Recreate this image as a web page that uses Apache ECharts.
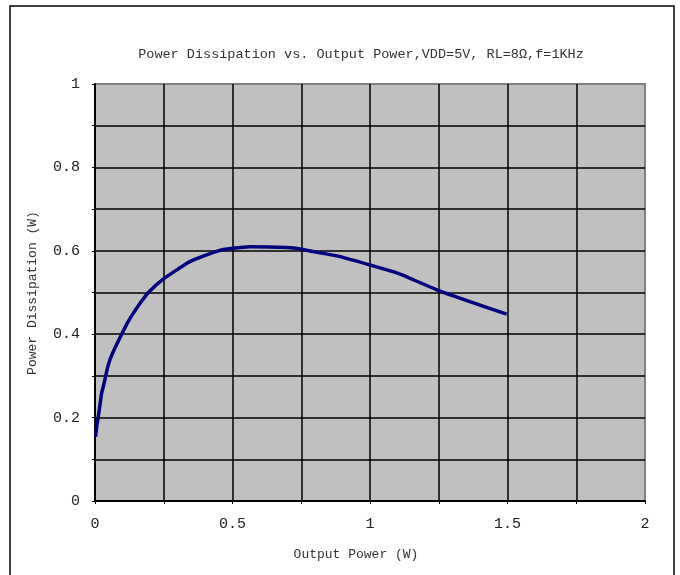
<!DOCTYPE html>
<html>
<head>
<meta charset="utf-8">
<script src="https://cdn.jsdelivr.net/npm/echarts@6/dist/echarts.min.js"></script>
<style>
  html, body { margin: 0; padding: 0; background: #ffffff; }
  #chart { width: 680px; height: 575px; }
</style>
</head>
<body>
<div id="chart"></div>
<script>
// Output power (W) and the matching power dissipation (W)
const outputPower = [0.002, 0.006, 0.012, 0.018, 0.024, 0.030, 0.039, 0.048, 0.061, 0.079, 0.097, 0.117, 0.139, 0.164, 0.194, 0.248, 0.345, 0.448, 0.5, 0.564, 0.697, 0.752, 0.794, 0.891, 1.0, 1.103, 1.252, 1.497];
const powerDissipation = [0.154, 0.178, 0.202, 0.230, 0.258, 0.274, 0.300, 0.326, 0.350, 0.376, 0.400, 0.426, 0.450, 0.474, 0.500, 0.532, 0.574, 0.600, 0.606, 0.610, 0.608, 0.604, 0.598, 0.586, 0.566, 0.546, 0.504, 0.448];

const chartTitle = 'Power Dissipation vs. Output Power,VDD=5V, RL=8Ω,f=1KHz';
const xName = 'Output Power (W)';
const yName = 'Power Dissipation (W)';

const FONT = '"Liberation Mono", "DejaVu Sans Mono", monospace';

const points = outputPower.map((x, i) => [x, powerDissipation[i]]);

const chart = echarts.init(document.getElementById('chart'), null, { renderer: 'canvas' });

chart.setOption({
  animation: false,
  backgroundColor: '#ffffff',
  grid: {
    left: 95, top: 84, width: 550, height: 417,
    show: true,
    backgroundColor: '#c0c0c0',
    borderColor: '#808080',
    borderWidth: 2
  },
  graphic: [
    {
      type: 'rect',
      shape: { x: 10, y: 6, width: 664, height: 600 },
      style: { fill: 'none', stroke: '#000', lineWidth: 1.5 },
      z: -10
    },
    {
      type: 'text',
      x: 361, y: 54,
      style: { text: chartTitle, font: '13.5px ' + FONT, fill: '#333', textAlign: 'center', textVerticalAlign: 'middle' }
    },
    {
      type: 'text',
      x: 356, y: 555,
      style: { text: xName, font: '13px ' + FONT, fill: '#333', textAlign: 'center', textVerticalAlign: 'middle' }
    },
    {
      type: 'text',
      x: 33, y: 293,
      rotation: Math.PI / 2,
      style: { text: yName, font: '13px ' + FONT, fill: '#333', textAlign: 'center', textVerticalAlign: 'middle' }
    }
  ],
  xAxis: {
    type: 'value',
    min: 0, max: 2, interval: 0.25,
    axisLine: { show: true, onZero: false, lineStyle: { color: '#000', width: 2 } },
    axisTick: { show: true, inside: false, length: 3, lineStyle: { color: '#000' } },
    axisLabel: {
      margin: 16,
      fontFamily: FONT, fontSize: 15, color: '#222',
      formatter: v => (Math.round(v * 4) % 2 === 0 ? String(+v.toFixed(2)) : '')
    },
    splitLine: { show: true, showMaxLine: false, lineStyle: { color: '#000', width: 1.5 } }
  },
  yAxis: {
    type: 'value',
    min: 0, max: 1, interval: 0.1,
    axisLine: { show: true, onZero: false, lineStyle: { color: '#000', width: 2 } },
    axisTick: { show: true, inside: false, length: 3, lineStyle: { color: '#000' } },
    axisLabel: {
      margin: 15,
      fontFamily: FONT, fontSize: 15, color: '#222',
      formatter: v => (Math.round(v * 10) % 2 === 0 ? String(+v.toFixed(1)) : '')
    },
    splitLine: { show: true, showMaxLine: false, lineStyle: { color: '#000', width: 1.5 } }
  },
  series: [
    {
      type: 'line',
      data: points,
      showSymbol: false,
      smooth: 0.15,
      lineStyle: { color: '#000080', width: 3.5 },
      z: 5
    }
  ]
});
</script>
</body>
</html>
